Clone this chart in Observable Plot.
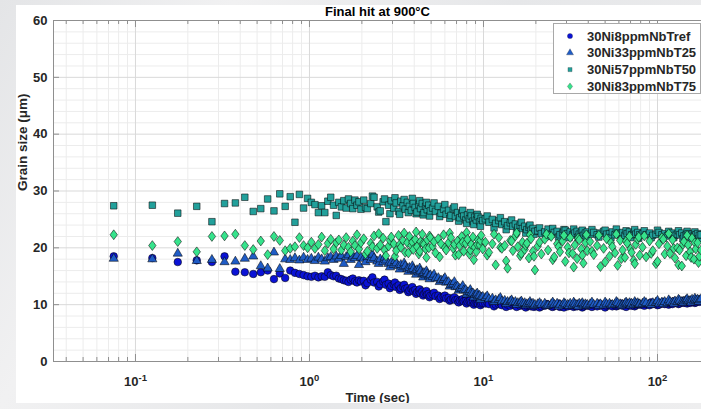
<!DOCTYPE html>
<html>
<head>
<meta charset="utf-8">
<script src="https://cdn.jsdelivr.net/npm/d3@7"></script>
<script src="https://cdn.jsdelivr.net/npm/@observablehq/plot@0.6"></script>
<style>
  html, body { margin: 0; padding: 0; }
  body { width: 701px; height: 409px; overflow: hidden; position: relative;
         background: linear-gradient(120deg, #e4e5e7 0%, #f1f1f2 25%, #e6e7e9 55%, #eeeeef 100%);
         font-family: "Liberation Sans", Arial, Helvetica, sans-serif; }
  #fig { position: absolute; left: 16px; top: 5px; width: 685px; height: 398px; background: #ffffff; overflow: hidden; }
  #chart { position: absolute; left: 0; top: 0; }
  #legend { position: absolute; left: 537px; top: 18px; width: 146px; height: 69px;
            background: #fff; border: 1px solid #a8a8a8; }
  #legend svg { display: block; }
</style>
</head>
<body>
<div id="fig">
  <div id="chart"></div>
  <div id="legend"></div>
</div>
<script>
// ---------------- DATA ----------------
// main sampling grid (s)
const time = [
  0.075, 0.125, 0.175, 0.225, 0.275, 0.325, 0.375, 0.425, 0.475, 0.525,
  0.575, 0.625, 0.675, 0.725, 0.775, 0.825, 0.875, 0.925, 0.975,
  1.025, 1.075, 1.125, 1.175, 1.225, 1.275, 1.325, 1.375, 1.425, 1.475,
  1.525, 1.575, 1.625, 1.675, 1.725, 1.775, 1.825, 1.875, 1.925, 1.975,
  2.05, 2.15, 2.25, 2.35, 2.45, 2.55, 2.65, 2.75, 2.85, 2.95,
  3.05, 3.15, 3.25, 3.35, 3.45, 3.55, 3.65, 3.75, 3.85, 3.95,
  4.05, 4.15, 4.25, 4.35, 4.45, 4.55, 4.65, 4.75, 4.85, 4.95,
  5.1, 5.3, 5.5, 5.7, 5.9, 6.1, 6.3, 6.5, 6.7, 6.9, 7.1, 7.3, 7.5,
  7.7, 7.9, 8.1, 8.3, 8.5, 8.7, 8.9, 9.1, 9.3, 9.5, 9.7, 9.9,
  10.25, 10.75, 11.25, 11.75, 12.25, 12.75, 13.25, 13.75, 14.25, 14.75,
  15.25, 15.75, 16.25, 16.75, 17.25, 17.75, 18.25, 18.75, 19.25, 19.75,
  20.5, 21.5, 22.5, 23.5, 24.5, 25.5, 26.5, 27.5, 28.5, 29.5,
  30.5, 31.5, 32.5, 33.5, 34.5, 35.5, 36.5, 37.5, 38.5, 39.5,
  41, 43, 45, 47, 49, 51, 53, 55, 57, 59,
  61, 63, 65, 67, 69, 71, 73, 75, 77, 79,
  82, 86, 90, 94, 98, 102, 106, 110, 114, 118, 122, 126, 130,
  134, 138, 142, 146, 150, 154, 158, 162, 166, 170, 174, 178
];

const grainTref = [
  18.5, 18.2, 17.5, 17.8, 17.5, 18.5, 15.8, 15.7, 15.4, 15.7,
  16.0, 14.5, 15.5, 14.7, 16.0, 15.6, 15.4, 15.2, 15.0,
  14.9, 15.1, 14.8, 15.0, 14.9, 15.7, 15.2, 15.0, 15.1, 14.6,
  14.5, 14.3, 14.2, 14.0, 14.4, 14.6, 14.1, 13.9, 14.3, 14.1,
  14.2, 13.8, 14.4, 13.9, 14.0, 13.6, 14.1, 13.5, 13.7, 13.3,
  13.6, 13.1, 13.4, 12.9, 13.2, 12.8, 12.9, 12.5, 12.8, 12.4,
  12.6, 12.2, 12.4, 12.0, 12.3, 11.9, 12.1, 11.8, 11.9, 11.6,
  11.8, 11.5, 11.6, 11.3, 11.4, 11.1, 11.2, 10.9, 11.1, 10.8, 10.9, 10.7, 10.8,
  10.6, 10.7, 10.5, 10.6, 10.4, 10.5, 10.3, 10.4, 10.2, 10.4, 10.2, 10.3,
  10.2, 10.1, 10.3, 10.0, 10.1, 9.9, 10.1, 10.0, 9.8, 10.0,
  9.9, 10.1, 9.8, 9.9, 10.0, 9.8, 9.9, 9.7, 9.9, 9.8,
  9.9, 9.7, 9.8, 10.0, 9.7, 9.8, 9.9, 9.6, 9.8, 9.9,
  9.7, 9.8, 10.0, 9.8, 9.7, 9.9, 9.8, 9.7, 9.9, 9.8,
  9.8, 9.9, 9.7, 9.8, 10.0, 9.8, 9.9, 9.7, 9.9, 9.8,
  10.0, 9.8, 9.9, 10.1, 9.9, 9.8, 10.0, 9.9, 10.1, 10.0,
  10.0, 10.1, 9.9, 10.1, 10.2, 10.0, 10.2, 10.1, 10.3, 10.2, 10.1, 10.3, 10.4,
  10.2, 10.4, 10.3, 10.5, 10.4, 10.3, 10.5, 10.6, 10.4, 10.6, 10.5, 10.7
];

const grainT25 = [
  18.1, 18.0, 19.0, 17.7, 17.9, 17.5, 17.6, 18.1, 18.5, 16.8,
  16.4, 19.2, 16.3, 18.0, 17.9, 18.2, 17.8, 18.3, 17.9,
  18.1, 17.7, 18.3, 18.0, 17.6, 18.2, 18.4, 17.9, 18.5, 18.1,
  18.6, 17.2, 18.4, 18.7, 17.9, 18.5, 18.2, 18.6, 17.0, 18.3,
  18.1, 18.4, 17.9, 18.2, 17.6, 18.0, 17.5, 17.8, 17.2, 17.4,
  17.0, 17.3, 16.8, 17.0, 16.6, 16.8, 16.3, 16.5, 16.1, 16.3,
  15.9, 16.1, 15.7, 15.9, 15.4, 15.6, 15.2, 15.4, 15.0, 15.2,
  14.9, 14.6, 14.7, 14.3, 14.4, 13.9, 14.0, 13.5, 13.6, 13.1, 13.2, 12.8, 12.9,
  12.5, 12.6, 12.2, 12.3, 12.0, 12.0, 11.7, 11.8, 11.5, 11.6, 11.3, 11.4,
  11.2, 11.0, 11.1, 10.8, 10.9, 10.6, 10.7, 10.5, 10.6, 10.4,
  10.5, 10.3, 10.4, 10.2, 10.3, 10.1, 10.2, 10.1, 10.2, 10.0,
  10.1, 10.0, 10.2, 9.9, 10.1, 10.0, 10.2, 10.0, 9.9, 10.1,
  10.0, 10.2, 9.9, 10.1, 10.0, 10.2, 10.1, 9.9, 10.1, 10.0,
  10.1, 10.0, 10.2, 10.1, 9.9, 10.1, 10.2, 10.0, 10.1, 10.3,
  10.1, 10.0, 10.2, 10.1, 10.3, 10.2, 10.0, 10.2, 10.3, 10.1,
  10.2, 10.3, 10.1, 10.3, 10.4, 10.2, 10.4, 10.5, 10.3, 10.5, 10.4, 10.6, 10.5,
  10.7, 10.5, 10.6, 10.8, 10.6, 10.7, 10.9, 10.7, 10.8, 10.9, 10.8, 11.0
];

const grainT50 = [
  27.4, 27.5, 26.1, 27.3, 24.6, 27.8, 27.9, 28.9, 26.4, 26.9,
  28.6, 26.5, 29.5, 27.3, 29.0, 24.5, 29.4, 27.0, 28.7,
  28.0, 27.6, 26.2, 27.4, 26.2, 28.2, 28.9, 27.5, 25.7, 28.0,
  27.2, 28.3, 27.0, 28.6, 27.8, 26.9, 28.4, 27.5, 28.1, 26.8,
  28.4, 26.9, 27.8, 28.9, 27.2, 26.5, 28.1, 24.6, 27.5, 28.3,
  27.0, 27.9, 26.4, 28.2, 27.4, 26.8, 28.0, 27.3, 26.6, 27.8,
  27.1, 26.3, 27.6, 26.9, 27.8, 26.2, 27.3, 26.7, 27.5, 26.5,
  27.0, 26.4, 27.3, 26.1, 26.8, 25.9, 26.6, 25.7, 26.9, 25.5, 26.2, 25.3, 26.0,
  25.6, 24.9, 25.8, 25.1, 25.6, 24.7, 25.4, 24.9, 25.5, 24.6, 25.2, 24.8,
  25.1, 24.5, 25.0, 24.3, 24.8, 24.1, 24.6, 23.9, 24.4, 23.8,
  24.2, 23.6, 24.0, 23.4, 23.8, 23.2, 23.6, 23.1, 23.4, 22.9,
  23.0, 22.5, 22.8, 23.3, 22.4, 22.7, 22.9, 22.3, 22.6, 23.1,
  22.5, 22.8, 22.3, 22.6, 22.9, 22.4, 22.7, 22.2, 22.6, 22.8,
  22.4, 22.7, 22.3, 22.6, 22.9, 22.4, 22.5, 22.8, 22.3, 22.6,
  22.4, 22.7, 22.2, 22.5, 22.8, 22.3, 22.6, 22.4, 22.7, 22.3,
  22.5, 22.3, 22.6, 22.2, 22.4, 22.7, 22.3, 22.5, 22.1, 22.4, 22.6, 22.2, 22.4,
  22.3, 22.6, 22.1, 22.3, 22.5, 22.2, 22.4, 22.1, 22.3, 22.5, 22.2, 22.3
];

const grainT75 = [
  22.3, 20.4, 21.1, 19.3, 22.0, 22.1, 22.4, 20.4, 19.7, 21.2,
  18.8, 22.0, 21.3, 19.5, 19.9, 20.2, 21.8, 20.4, 20.0,
  21.0, 19.9, 20.6, 21.9, 19.5, 20.8, 21.5, 19.8, 20.9, 21.4,
  19.6, 20.5, 21.8, 20.1, 19.3, 21.2, 20.4, 22.3, 19.8, 20.9,
  21.6, 19.4, 20.8, 22.1, 19.9, 20.5, 21.7, 18.6, 20.3, 21.9,
  20.7, 19.5, 22.2, 20.1, 21.3, 19.2, 20.9, 22.0, 20.4, 19.7,
  21.5, 20.2, 18.9, 21.1, 22.4, 20.6, 19.8, 21.4, 20.0, 21.8,
  20.3, 19.1, 21.6, 20.7, 22.3, 19.6, 20.9, 21.8, 19.9, 18.7, 21.2, 20.4, 22.0,
  19.4, 20.8, 21.5, 18.9, 20.6, 21.9, 20.1, 19.3, 21.4, 20.5, 22.2, 19.8,
  21.0, 19.2, 20.7, 17.0, 21.8, 19.9, 20.4, 16.4, 21.3, 19.5,
  22.1, 20.2, 18.6, 21.0, 19.7, 20.8, 18.2, 21.6, 19.4, 16.1,
  20.3, 18.9, 21.5, 19.6, 22.0, 18.4, 20.7, 19.3, 21.2, 17.6,
  20.1, 21.8, 19.0, 20.5, 18.1, 21.4, 19.8, 17.3, 20.9, 19.5,
  21.1, 18.8, 20.4, 16.7, 19.9, 21.6, 18.5, 20.2, 19.1, 16.9,
  21.3, 19.6, 18.3, 20.8, 22.0, 19.2, 17.8, 20.6, 21.5, 18.7,
  20.1, 18.4, 21.2, 19.5, 17.2, 20.7, 21.8, 18.9, 20.3, 19.0, 21.4, 18.2, 20.0,
  19.6, 16.8, 21.1, 18.6, 20.5, 19.3, 21.7, 18.0, 19.8, 20.9, 18.5, 19.6
];

// extra readings between the main grid (s), where the reference is densest
const time2 = [
  2.1, 2.3, 2.5, 2.7, 2.9, 3.1, 3.3, 3.5, 3.7, 3.9, 4.1, 4.3, 4.5, 4.7, 4.9,
  5.2, 5.6, 6.0, 6.4, 6.8, 7.2, 7.6, 8.0, 8.4, 8.8, 9.2, 9.6,
  10.5, 11.5, 12.5, 13.5, 14.5, 15.5, 16.5, 17.5, 18.5, 19.5,
  21, 23, 25, 27, 29, 31, 33, 35, 37, 39,
  42, 46, 50, 54, 58, 62, 66, 70, 74, 78,
  84, 92, 100, 108, 116, 124, 132, 140, 148, 156, 164, 172
];
const grainTref2 = [
  13.4, 14.8, 13.2, 14.4, 12.9, 13.9, 12.6, 13.5, 12.2, 13.1, 11.9, 12.7, 11.6, 12.4, 11.3,
  12.1, 11.0, 11.6, 10.7, 11.3, 10.4, 11.0, 10.2, 10.8, 10.0, 10.6, 9.9,
  10.4, 9.7, 10.3, 9.6, 10.2, 9.6, 10.1, 9.5, 10.2, 9.6,
  9.5, 10.1, 9.6, 10.2, 9.5, 10.0, 9.6, 10.1, 9.5, 10.0,
  9.6, 10.2, 9.5, 10.1, 9.7, 10.2, 9.6, 10.3, 9.7, 10.2,
  9.8, 10.4, 9.9, 10.5, 10.0, 10.6, 10.1, 10.7, 10.2, 10.8, 10.3, 10.9
];
const grainT25_2 = [
  17.5, 18.8, 17.2, 18.3, 16.6, 17.7, 16.2, 17.3, 15.8, 16.8, 15.3, 16.4, 14.8, 15.9, 14.5,
  15.3, 14.0, 14.7, 13.2, 14.0, 12.5, 13.3, 11.8, 12.6, 11.3, 12.0, 10.9,
  11.5, 10.5, 11.2, 10.2, 10.8, 10.0, 10.6, 9.9, 10.5, 9.8,
  10.3, 9.8, 10.4, 9.7, 10.3, 9.8, 10.4, 9.7, 10.3, 9.8,
  10.4, 9.8, 10.4, 9.9, 10.5, 9.8, 10.4, 9.9, 10.5, 10.0,
  10.5, 10.0, 10.7, 10.1, 10.8, 10.2, 10.9, 10.3, 11.0, 10.4, 11.1, 10.5
];
const grainT50_2 = [
  27.1, 29.1, 26.3, 28.6, 26.0, 28.8, 25.9, 28.5, 26.2, 28.7, 26.0, 28.3, 25.8, 28.0, 25.6,
  27.9, 25.5, 27.6, 25.2, 27.2, 24.7, 26.6, 24.3, 26.2, 24.1, 25.9, 23.8,
  25.6, 23.5, 25.3, 23.2, 24.9, 22.8, 24.5, 22.6, 24.0, 22.4,
  23.5, 22.0, 23.4, 21.9, 23.2, 21.8, 23.3, 21.9, 23.1, 21.8,
  23.2, 21.9, 23.1, 21.8, 23.3, 21.9, 23.0, 21.8, 23.2, 21.7,
  23.0, 21.8, 23.1, 21.7, 22.9, 21.8, 23.0, 21.6, 22.9, 21.7, 22.8, 21.6
];
const grainT75_2 = [
  18.9, 20.2, 22.5, 19.6, 21.3, 18.5, 20.6, 22.6, 19.1, 21.0, 22.8, 19.4, 20.8, 18.3, 22.1,
  21.1, 18.4, 20.0, 22.6, 20.6, 18.8, 21.0, 22.7, 19.6, 17.9, 20.6, 21.3,
  18.7, 22.4, 20.1, 17.7, 21.2, 22.6, 19.0, 20.4, 22.3, 18.5,
  21.0, 22.4, 17.9, 20.2, 22.2, 19.1, 16.6, 21.7, 18.7, 22.3,
  19.4, 22.2, 17.5, 20.9, 22.4, 18.1, 21.2, 19.8, 17.2, 21.9,
  22.1, 19.0, 17.6, 21.5, 22.5, 19.9, 17.0, 20.6, 22.2, 18.3, 20.9, 17.4
];

const seriesNames   = ["30Ni8ppmNbTref", "30Ni33ppmNbT25", "30Ni57ppmNbT50", "30Ni83ppmNbT75"];
const seriesValues  = [grainTref, grainT25, grainT50, grainT75];
const seriesValues2 = [grainTref2, grainT25_2, grainT50_2, grainT75_2];
const seriesColors  = ["#0a12d6", "#1f5cc6", "#22a09b", "#36e38c"];
const seriesSymbols = ["circle", "triangle", "square", "diamond"];
const seriesRadius  = [3.8, 3.4, 3.7, 3.4];

const titleText = "Final hit at 900°C";
const xLabel = "Time (sec)";
const yLabel = "Grain size (μm)";
const xMajorTicks = [0.1, 1, 10, 100];
const xTickExponents = ["-1", "0", "1", "2"];
const yTicks = [0, 10, 20, 30, 40, 50, 60];
const xDomain = [0.0338, 179];
const yDomain = [0, 60];

// ---------------- LAYOUT ----------------
const W = 685, H = 398, mL = 37, mR = 0, mT = 15, mB = 42;
const plotW = W - mL - mR, plotH = H - mT - mB;
const axisC = "#8f8f8f", textC = "#262626";
const font = "'Liberation Sans', Arial, Helvetica, sans-serif";

// MATLAB-like diamond (wider than d3's)
const wideDiamond = {
  draw(ctx, size) {
    const h = Math.sqrt(size / 1.5);
    const w = h * 0.75;
    ctx.moveTo(0, -h); ctx.lineTo(w, 0); ctx.lineTo(0, h); ctx.lineTo(-w, 0); ctx.closePath();
  }
};
const symbolOf = s => s === "diamond" ? wideDiamond : s;

const xMinor = d3.scaleLog().domain(xDomain).ticks().filter(d => !xMajorTicks.some(m => Math.abs(m - d) < 1e-9));
const yMinor = d3.range(yDomain[0], yDomain[1] + 1, 2).filter(d => d % 10 !== 0);

const dotMarks = seriesNames.map((name, k) => {
  const pts = time.map((t, i) => ({t, v: seriesValues[k][i]}))
    .concat(time2.map((t, i) => ({t, v: seriesValues2[k][i]})))
    .filter(d => d.v != null)
    .sort((a, b) => a.t - b.t);
  return Plot.dot(pts, {
    x: "t", y: "v", symbol: symbolOf(seriesSymbols[k]), r: seriesRadius[k],
    fill: seriesColors[k], stroke: "#050505", strokeWidth: 0.6, strokeOpacity: 0.9
  });
});

const chart = Plot.plot({
  width: W, height: H,
  marginLeft: mL, marginRight: mR, marginTop: mT, marginBottom: mB,
  style: {background: "transparent", fontFamily: font, overflow: "visible"},
  x: {type: "log", domain: xDomain, axis: null},
  y: {domain: yDomain, axis: null},
  marks: [
    Plot.ruleX(xMinor, {stroke: "#ececec", strokeWidth: 1}),
    Plot.ruleY(yMinor, {stroke: "#ececec", strokeWidth: 1}),
    Plot.ruleX(xMajorTicks, {stroke: "#d9d9d9", strokeWidth: 1}),
    Plot.ruleY(yTicks, {stroke: "#d9d9d9", strokeWidth: 1}),
    ...dotMarks,
    Plot.ruleX([xDomain[0]], {stroke: axisC}),
    Plot.ruleY([yDomain[0]], {stroke: axisC}),
    Plot.ruleY([yDomain[1]], {stroke: axisC}),
    Plot.tickX(xMajorTicks, {x: d => d, insetTop: plotH - 7, stroke: axisC}),
    Plot.tickX(xMajorTicks, {x: d => d, insetBottom: plotH - 7, stroke: axisC}),
    Plot.tickX(xMinor, {x: d => d, insetTop: plotH - 4, stroke: axisC}),
    Plot.tickX(xMinor, {x: d => d, insetBottom: plotH - 4, stroke: axisC}),
    Plot.tickY(yTicks, {y: d => d, insetRight: plotW - 6, stroke: axisC}),
    Plot.axisX(xMajorTicks, {tickSize: 0, tickPadding: 15, tickFormat: () => "10", label: null,
      fontSize: 13, fontWeight: "bold", fill: textC}),
    Plot.axisY(yTicks, {tickSize: 0, tickPadding: 6, tickFormat: d => String(d), label: null,
      fontSize: 13, fontWeight: "bold", fill: textC}),
    Plot.text([titleText], {frameAnchor: "top", dy: -5, lineAnchor: "bottom",
      fontSize: 13, fontWeight: "bold", fill: "#000"}),
    Plot.text([xLabel], {frameAnchor: "bottom", dy: 40, lineAnchor: "bottom",
      fontSize: 13, fontWeight: "bold", fill: textC}),
    Plot.text([yLabel], {frameAnchor: "left", dx: -31, rotate: -90, lineAnchor: "middle",
      fontSize: 13.5, fontWeight: "bold", fill: textC})
  ]
});
document.getElementById("chart").appendChild(chart);

// superscript exponents on the log tick labels
d3.select(chart).selectAll('g[aria-label="x-axis tick label"] text').each(function(_, i) {
  const t = d3.select(this);
  t.text("10");
  t.append("tspan").attr("dy", "-0.45em").attr("font-size", "9.5px").text(xTickExponents[i]);
});

// ---------------- LEGEND ----------------
const lg = d3.select("#legend").append("svg").attr("width", 146).attr("height", 69)
  .style("font-family", font);
const legendR = [2.6, 2.6, 2.3, 2.4];
seriesNames.forEach((name, k) => {
  const cy = 12 + k * 16.8;
  const sym = {circle: d3.symbolCircle, triangle: d3.symbolTriangle, square: d3.symbolSquare, diamond: wideDiamond}[seriesSymbols[k]];
  lg.append("path")
    .attr("d", d3.symbol(sym, Math.PI * legendR[k] * legendR[k])())
    .attr("transform", `translate(16,${cy})`)
    .attr("fill", seriesColors[k]).attr("stroke", "#333").attr("stroke-width", 0.3);
  lg.append("text").attr("x", 33).attr("y", cy).attr("dy", "0.36em")
    .attr("font-size", 13).attr("font-weight", "bold").attr("fill", textC).text(name);
});
</script>
</body>
</html>
